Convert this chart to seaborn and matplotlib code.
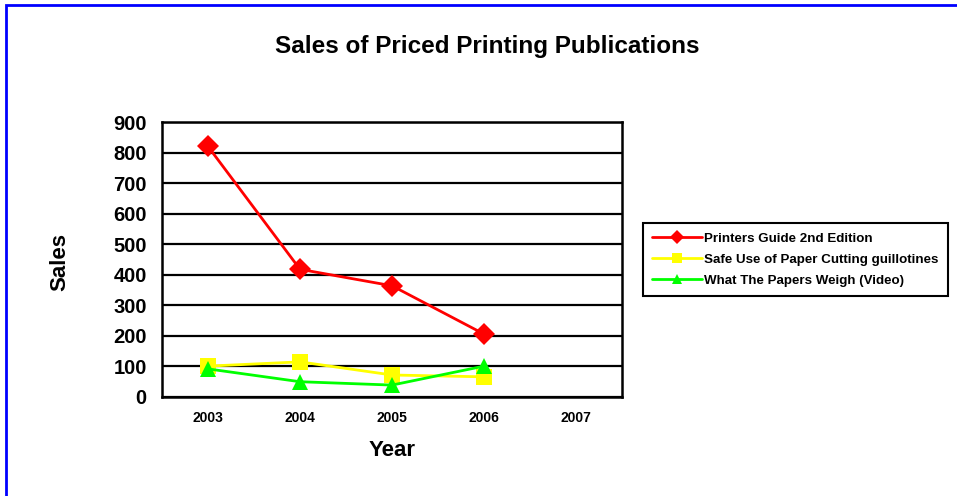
import matplotlib.pyplot as plt
import matplotlib.patches as patches
import pandas as pd
import seaborn as sns

years = [2003, 2004, 2005, 2006, 2007]
data_years = [2003, 2004, 2005, 2006]
printers_guide = [820, 418, 364, 206]
safe_use = [101, 115, 72, 66]
papers_weigh = [92, 50, 39, 101]
series_names = ['Printers Guide 2nd Edition',
                'Safe Use of Paper Cutting guillotines',
                'What The Papers Weigh (Video)']
y_ticks = [0, 100, 200, 300, 400, 500, 600, 700, 800, 900]

# long form table for seaborn
df = pd.DataFrame({
    'Year': data_years * 3,
    'Sales': printers_guide + safe_use + papers_weigh,
    'Series': [series_names[0]] * 4 + [series_names[1]] * 4 + [series_names[2]] * 4,
})

sns.set_theme(style='white', rc={'text.color': 'black', 'xtick.color': 'black',
                                 'ytick.color': 'black', 'axes.labelcolor': 'black'})
plt.rcParams['font.family'] = ['Liberation Sans', 'DejaVu Sans']
plt.rcParams['font.weight'] = 'bold'

fig = plt.figure(figsize=(9.57, 4.96), dpi=100)
ax = fig.add_axes([162 / 957, 1 - 397 / 496, 460 / 957, 275 / 496])

palette = {series_names[0]: '#ff0000', series_names[1]: '#ffff00', series_names[2]: '#00ff00'}
markers = {series_names[0]: 'D', series_names[1]: 's', series_names[2]: '^'}
sns.lineplot(data=df, x='Year', y='Sales', hue='Series', style='Series',
             palette=palette, markers=markers, dashes=False, linewidth=2,
             markersize=11, markeredgewidth=0, ax=ax, legend=True)

ax.set_xlim(years[0] - 0.5, years[-1] + 0.5)
ax.set_ylim(0, 900)
ax.set_yticks(y_ticks)
ax.set_yticklabels([str(v) for v in y_ticks], fontsize=14.5, fontweight='bold')
ax.set_xticks(years)
ax.set_xticklabels([str(y) for y in years], fontsize=10, fontweight='bold')
ax.set_xticks([y + 0.5 for y in years[:-1]] + [years[0] - 0.5, years[-1] + 0.5], minor=True)
ax.tick_params(axis='x', which='major', length=0, pad=10)
ax.tick_params(axis='x', which='minor', length=7, width=1.5, direction='inout', color='black')
ax.tick_params(axis='y', which='major', length=8, width=1.5, direction='inout', color='black', pad=7)
ax.yaxis.grid(True, color='black', linewidth=1.6)
ax.xaxis.grid(False)
ax.set_axisbelow(True)
for s in ax.spines.values():
    s.set_color('black')
    s.set_linewidth(1.8)

ax.set_xlabel('')
ax.set_ylabel('')
fig.text(487 / 957, 1 - 47 / 496, 'Sales of Priced Printing Publications',
         ha='center', va='center', fontsize=17.5, fontweight='bold')
fig.text(60 / 957, 1 - 262 / 496, 'Sales', rotation=90, ha='center', va='center',
         fontsize=16, fontweight='bold')
fig.text(392 / 957, 1 - 450 / 496, 'Year', ha='center', va='center',
         fontsize=16, fontweight='bold')

handles, labels = ax.get_legend_handles_labels()
ax.get_legend().remove()
leg = fig.legend(handles, labels, loc='upper left',
                 bbox_to_anchor=(643 / 957, 1 - 223 / 496), borderaxespad=0,
                 fancybox=False, framealpha=1, edgecolor='black',
                 prop={'size': 9.6, 'weight': 'bold'}, handlelength=3.7,
                 handletextpad=0.2, labelspacing=0.65, borderpad=0.7)
leg.get_frame().set_linewidth(1.5)
for h in leg.legend_handles:
    h.set_markersize(7.5)
    h.set_linewidth(2)

# blue outer frame (only left and top visible in original)
fig.patches.append(patches.Rectangle((6 / 957, -0.1), 1.2, 1.1 - 5 / 496,
                                     transform=fig.transFigure, fill=False,
                                     edgecolor='#0000ff', linewidth=2))

fig.savefig('out.png', dpi=100)
